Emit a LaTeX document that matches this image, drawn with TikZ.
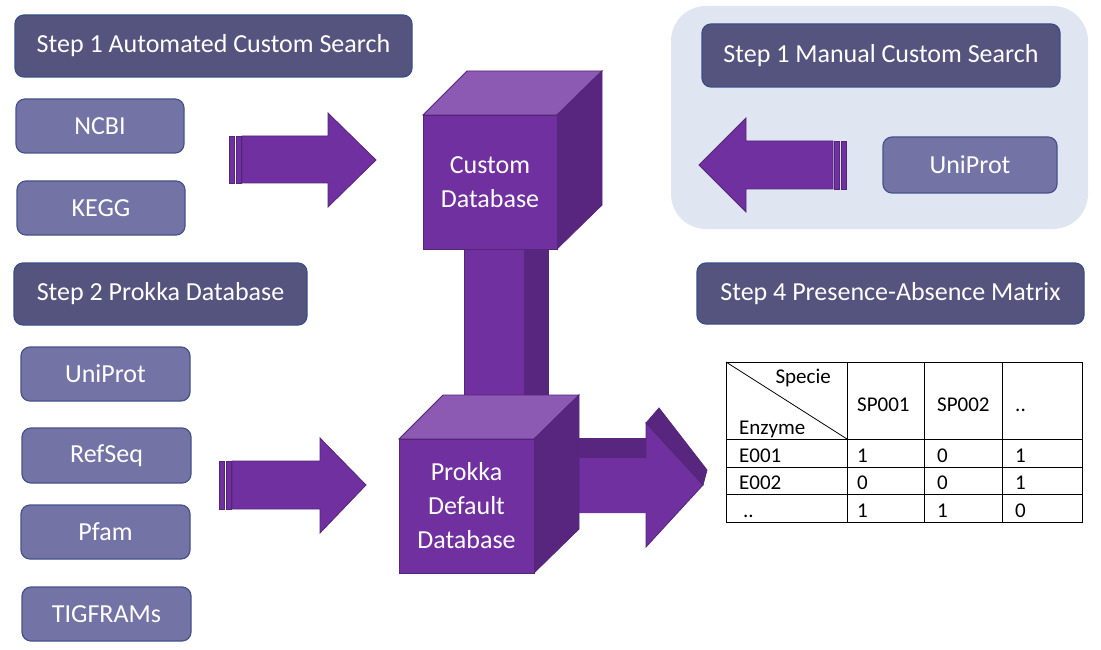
\documentclass[tikz,border=0pt]{standalone}
\usepackage{fontspec}
\setmainfont{Carlito}
\definecolor{hdr}{HTML}{55547E}
\definecolor{hdrline}{HTML}{3A4F86}
\definecolor{sub}{HTML}{7473A5}
\definecolor{subline}{HTML}{46528A}
\definecolor{purp}{HTML}{7030A0}
\definecolor{purptop}{HTML}{8C5AB2}
\definecolor{purpside}{HTML}{58267F}
\definecolor{purpline}{HTML}{53267A}
\definecolor{panel}{HTML}{DFE6F2}
\begin{document}
\begin{tikzpicture}[x=1pt,y=-1pt,
  hdrbox/.style={draw=hdrline, line width=1.2pt, fill=hdr, rounded corners=9pt, text=white,
    font=\fontsize{26}{30}\selectfont, inner sep=0pt},
  subbox/.style={draw=subline, line width=1.2pt, fill=sub, rounded corners=9pt, text=white,
    font=\fontsize{26}{30}\selectfont, inner sep=0pt},
  arrowbody/.style={draw=purpline, line width=0.8pt, fill=purp, line join=miter},
  front/.style={draw=purpline, line width=0.8pt, fill=purp},
  topface/.style={draw=purpline, line width=0.8pt, fill=purptop},
  sideface/.style={draw=purpline, line width=0.8pt, fill=purpside},
  cubetext/.style={text=white, align=center, font=\fontsize{26}{34}\selectfont, inner sep=0pt},
  tabline/.style={draw=black, line width=0.8pt},
  tabtext/.style={font=\fontsize{21}{24}\selectfont, inner sep=0pt, text=black}
]
\useasboundingbox (0,0) rectangle (1101,650);

% right panel
\fill[panel, rounded corners=35pt] (671,6) rectangle (1088,229);

% headers and source boxes
\node[hdrbox, minimum width=397pt, minimum height=62pt] (h1) at (213.5,46) {Step 1 Automated Custom Search};
\node[subbox, minimum width=168pt, minimum height=54pt] (ncbi) at (100,126) {NCBI};
\node[subbox, minimum width=168pt, minimum height=54pt] (kegg) at (101,208) {KEGG};
\node[hdrbox, minimum width=293pt, minimum height=62pt] (h2) at (160.5,294) {Step 2 Prokka Database};
\node[subbox, minimum width=169pt, minimum height=54pt] (uni1) at (105.5,374) {UniProt};
\node[subbox, minimum width=169pt, minimum height=55pt] (refseq) at (106.5,455.5) {RefSeq};
\node[subbox, minimum width=169pt, minimum height=54pt] (pfam) at (105.5,532) {Pfam};
\node[subbox, minimum width=169pt, minimum height=54pt] (tigr) at (106.5,614) {TIGFRAMs};
\node[hdrbox, minimum width=358pt, minimum height=63pt] (hm) at (881,55.5) {Step 1 Manual Custom Search};
\node[subbox, minimum width=174pt, minimum height=56pt] (uni2) at (970,165) {UniProt};
\node[hdrbox, minimum width=387pt, minimum height=61pt] (h4) at (890.5,293.5) {Step 4 Presence-Absence Matrix};

% block arrow 1
\draw[arrowbody] (242,136) -- (328,136) -- (328,113) -- (376,160) -- (328,207) -- (328,183) -- (242,183) -- cycle;
\draw[arrowbody] (229,136) rectangle (234,183);
\draw[arrowbody] (236,136) rectangle (241,183);
% block arrow 2
\draw[arrowbody] (232,461) -- (320,461) -- (320,438) -- (366,485) -- (320,533) -- (320,509) -- (232,509) -- cycle;
\draw[arrowbody] (219,461) rectangle (224,509);
\draw[arrowbody] (226,461) rectangle (231,509);
% block arrow 3 (left)
\draw[arrowbody] (833,141) -- (746,141) -- (746,118) -- (699,165) -- (746,212) -- (746,189) -- (833,189) -- cycle;
\draw[arrowbody] (834,141) rectangle (839,189);
\draw[arrowbody] (841,141) rectangle (846,189);

% column between cubes
\fill[purp] (464,245) rectangle (524,400);
\fill[purpside] (524,245) rectangle (548,400);
\draw[purpline, line width=0.8pt] (464,245) -- (464,400) (548,245) -- (548,400);

% 3D arrow out of cube 2
\fill[purpside] (575,438) -- (652,438) -- (652,458) -- (575,458) -- cycle;
\draw[sideface] (646,423) -- (659,408) -- (707,470) -- (703,485) -- cycle;
\fill[purp] (575,458) -- (646,458) -- (646,423) -- (703,485) -- (646,547) -- (646,513) -- (575,513) -- cycle;
\draw[purpline, line width=0.8pt] (646,458) -- (646,423) -- (703,485) -- (646,547) -- (646,513);

% cube 1
\draw[topface] (423,115) -- (467,71) -- (602,71) -- (557,115) -- cycle;
\draw[sideface] (557,115) -- (602,71) -- (602,205) -- (557,249) -- cycle;
\draw[front] (423,115) rectangle (557,249);
\node[cubetext] (customdb) at (490,182) {Custom\\Database};

% cube 2
\draw[topface] (399,439) -- (443,395) -- (579,395) -- (534,439) -- cycle;
\draw[sideface] (534,439) -- (579,395) -- (579,529) -- (534,573) -- cycle;
\draw[front] (399,439) rectangle (534,573);
\node[cubetext] (prokkadb) at (466.5,506) {Prokka\\Default\\Database};

% table
\draw[tabline] (726,362) rectangle (1082,522);
\draw[tabline] (726,439) -- (1082,439) (726,467) -- (1082,467) (726,494) -- (1082,494);
\draw[tabline] (847,362) -- (847,522) (924,362) -- (924,522) (1002,362) -- (1002,522);
\draw[tabline] (726,362) -- (847,439);
\node[tabtext, anchor=base east] (specie) at (831,383) {Specie};
\node[tabtext, anchor=base west] (enzyme) at (739,434) {Enzyme};
\node[tabtext, anchor=base west] (sp1) at (857,411) {SP001};
\node[tabtext, anchor=base west] (sp2) at (937,411) {SP002};
\node[tabtext, anchor=base west] (spn) at (1015,411) {..};
\node[tabtext, anchor=base west] (e1) at (739,462) {E001};
\node[tabtext, anchor=base west] (e1a) at (857,462) {1};
\node[tabtext, anchor=base west] (e1b) at (937,462) {0};
\node[tabtext, anchor=base west] (e1c) at (1015,462) {1};
\node[tabtext, anchor=base west] (e2) at (739,489) {E002};
\node[tabtext, anchor=base west] (e2a) at (857,489) {0};
\node[tabtext, anchor=base west] (e2b) at (937,489) {0};
\node[tabtext, anchor=base west] (e2c) at (1015,489) {1};
\node[tabtext, anchor=base west] (en) at (743,517) {..};
\node[tabtext, anchor=base west] (ena) at (857,517) {1};
\node[tabtext, anchor=base west] (enb) at (937,517) {1};
\node[tabtext, anchor=base west] (enc) at (1015,517) {0};
\end{tikzpicture}
\end{document}
